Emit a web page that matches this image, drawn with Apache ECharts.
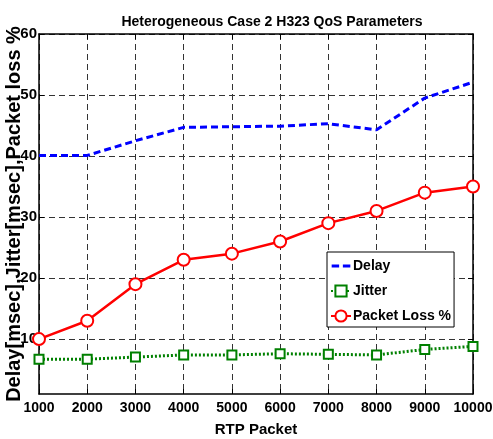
<!DOCTYPE html>
<html>
<head>
<meta charset="utf-8">
<script src="https://cdn.jsdelivr.net/npm/echarts@6/dist/echarts.min.js"></script>
<style>html,body{margin:0;padding:0;background:#fff}#c{width:493px;height:439px}</style>
</head>
<body>
<div id="c"></div>
<script>
const rtpPackets = [1000, 2000, 3000, 4000, 5000, 6000, 7000, 8000, 9000, 10000];
const delay = [40.1, 40.1, 42.5, 44.7, 44.8, 44.9, 45.3, 44.3, 49.5, 52.1];
const jitter = [6.7, 6.7, 7.05, 7.4, 7.4, 7.6, 7.5, 7.4, 8.3, 8.8];
const packetLoss = [10, 13, 19, 23, 24, 26, 29, 31, 34, 35];
const yTicks = [10, 20, 30, 40, 50, 60];

const sans = '"Liberation Sans", Arial, Helvetica, sans-serif';
const pair = (arr) => rtpPackets.map((x, i) => [x, arr[i]]);

const chart = echarts.init(document.getElementById('c'), null, {renderer: 'canvas'});
chart.setOption({
  animation: false,
  backgroundColor: '#fff',
  title: {
    text: 'Heterogeneous Case 2 H323 QoS Parameters',
    left: 267, top: 10, textAlign: 'center',
    textStyle: {fontFamily: sans, fontWeight: 'bold', fontSize: 14, color: '#000'}
  },
  grid: {left: 39, right: 20, top: 34, bottom: 45, containLabel: false, outerBoundsMode: 'none'},
  legend: {
    orient: 'vertical', left: 327, top: 252,
    backgroundColor: '#fff', borderColor: '#000', borderWidth: 1,
    padding: [7, 3, 4, 3], itemGap: 11, itemWidth: 20, itemHeight: 14,
    textStyle: {fontFamily: sans, fontWeight: 'bold', fontSize: 14, color: '#000', padding: [0,0,0,-3]},
    data: [
      {name: 'Delay', icon: 'path://M0,0h0.01v0.01h-0.01z M0,6h8v3h-8z M12,6h8v3h-8z M19.99,14.99h0.01v0.01h-0.01z'},
      {name: 'Jitter'},
      {name: 'Packet Loss %'}
    ]
  },
  xAxis: [{
    type: 'value', min: 1000, max: 10000, interval: 1000,
    name: 'RTP Packet', nameLocation: 'middle', nameGap: 28, nameMoveOverlap: false,
    nameTextStyle: {fontFamily: sans, fontWeight: 'bold', fontSize: 15, color: '#000'},
    axisLine: {lineStyle: {color: '#000', width: 1.5}},
    axisTick: {inside: true, length: 5, lineStyle: {color: '#000'}},
    axisLabel: {fontFamily: sans, fontWeight: 'bold', fontSize: 14, color: '#000', margin: 7,
      showMinLabel: true, showMaxLabel: true, hideOverlap: false, formatter: (v) => String(v)},
    splitLine: {show: true, lineStyle: {color: '#333', type: [6, 4], width: 1}}
  }, {
    type: 'value', min: 1000, max: 10000, interval: 1000, position: 'top',
    axisLine: {lineStyle: {color: '#000', width: 1.5}},
    axisTick: {inside: true, length: 5, lineStyle: {color: '#000'}},
    axisLabel: {show: false}, splitLine: {show: false}
  }],
  yAxis: [{
    type: 'value', min: 1, max: 60,
    name: 'Delay[msec],Jitter[msec],Packet loss %', nameLocation: 'middle', nameGap: 15, nameMoveOverlap: false,
    nameTextStyle: {fontFamily: sans, fontWeight: 'bold', fontSize: 20, color: '#000'},
    axisLine: {show: true, lineStyle: {color: '#000', width: 1.5}},
    axisTick: {inside: true, length: 5, customValues: yTicks, lineStyle: {color: '#000'}},
    axisLabel: {fontFamily: sans, fontWeight: 'bold', fontSize: 15, color: '#000', margin: 2,
      customValues: yTicks, hideOverlap: false},
    splitLine: {show: true, lineStyle: {color: '#333', type: [6, 4], width: 1}}
  }, {
    type: 'value', min: 1, max: 60, position: 'right',
    axisLine: {show: true, lineStyle: {color: '#000', width: 1.5}},
    axisTick: {inside: true, length: 5, customValues: yTicks, lineStyle: {color: '#000'}},
    axisLabel: {show: false}, splitLine: {show: false}
  }],
  series: [{
    name: 'Delay', type: 'line', data: pair(delay), symbol: 'none',
    itemStyle: {color: '#0000ff'},
    lineStyle: {color: '#0000ff', width: 3, type: [7, 4]}
  }, {
    name: 'Jitter', type: 'line', data: pair(jitter), symbol: 'rect', symbolSize: 9,
    itemStyle: {color: '#fff', borderColor: '#008000', borderWidth: 2},
    lineStyle: {color: '#008000', width: 3, type: [2, 2]}
  }, {
    name: 'Packet Loss %', type: 'line', data: pair(packetLoss), symbol: 'circle', symbolSize: 12,
    itemStyle: {color: '#fff', borderColor: '#ff0000', borderWidth: 2},
    lineStyle: {color: '#ff0000', width: 2.5}
  }]
});
</script>
</body>
</html>
